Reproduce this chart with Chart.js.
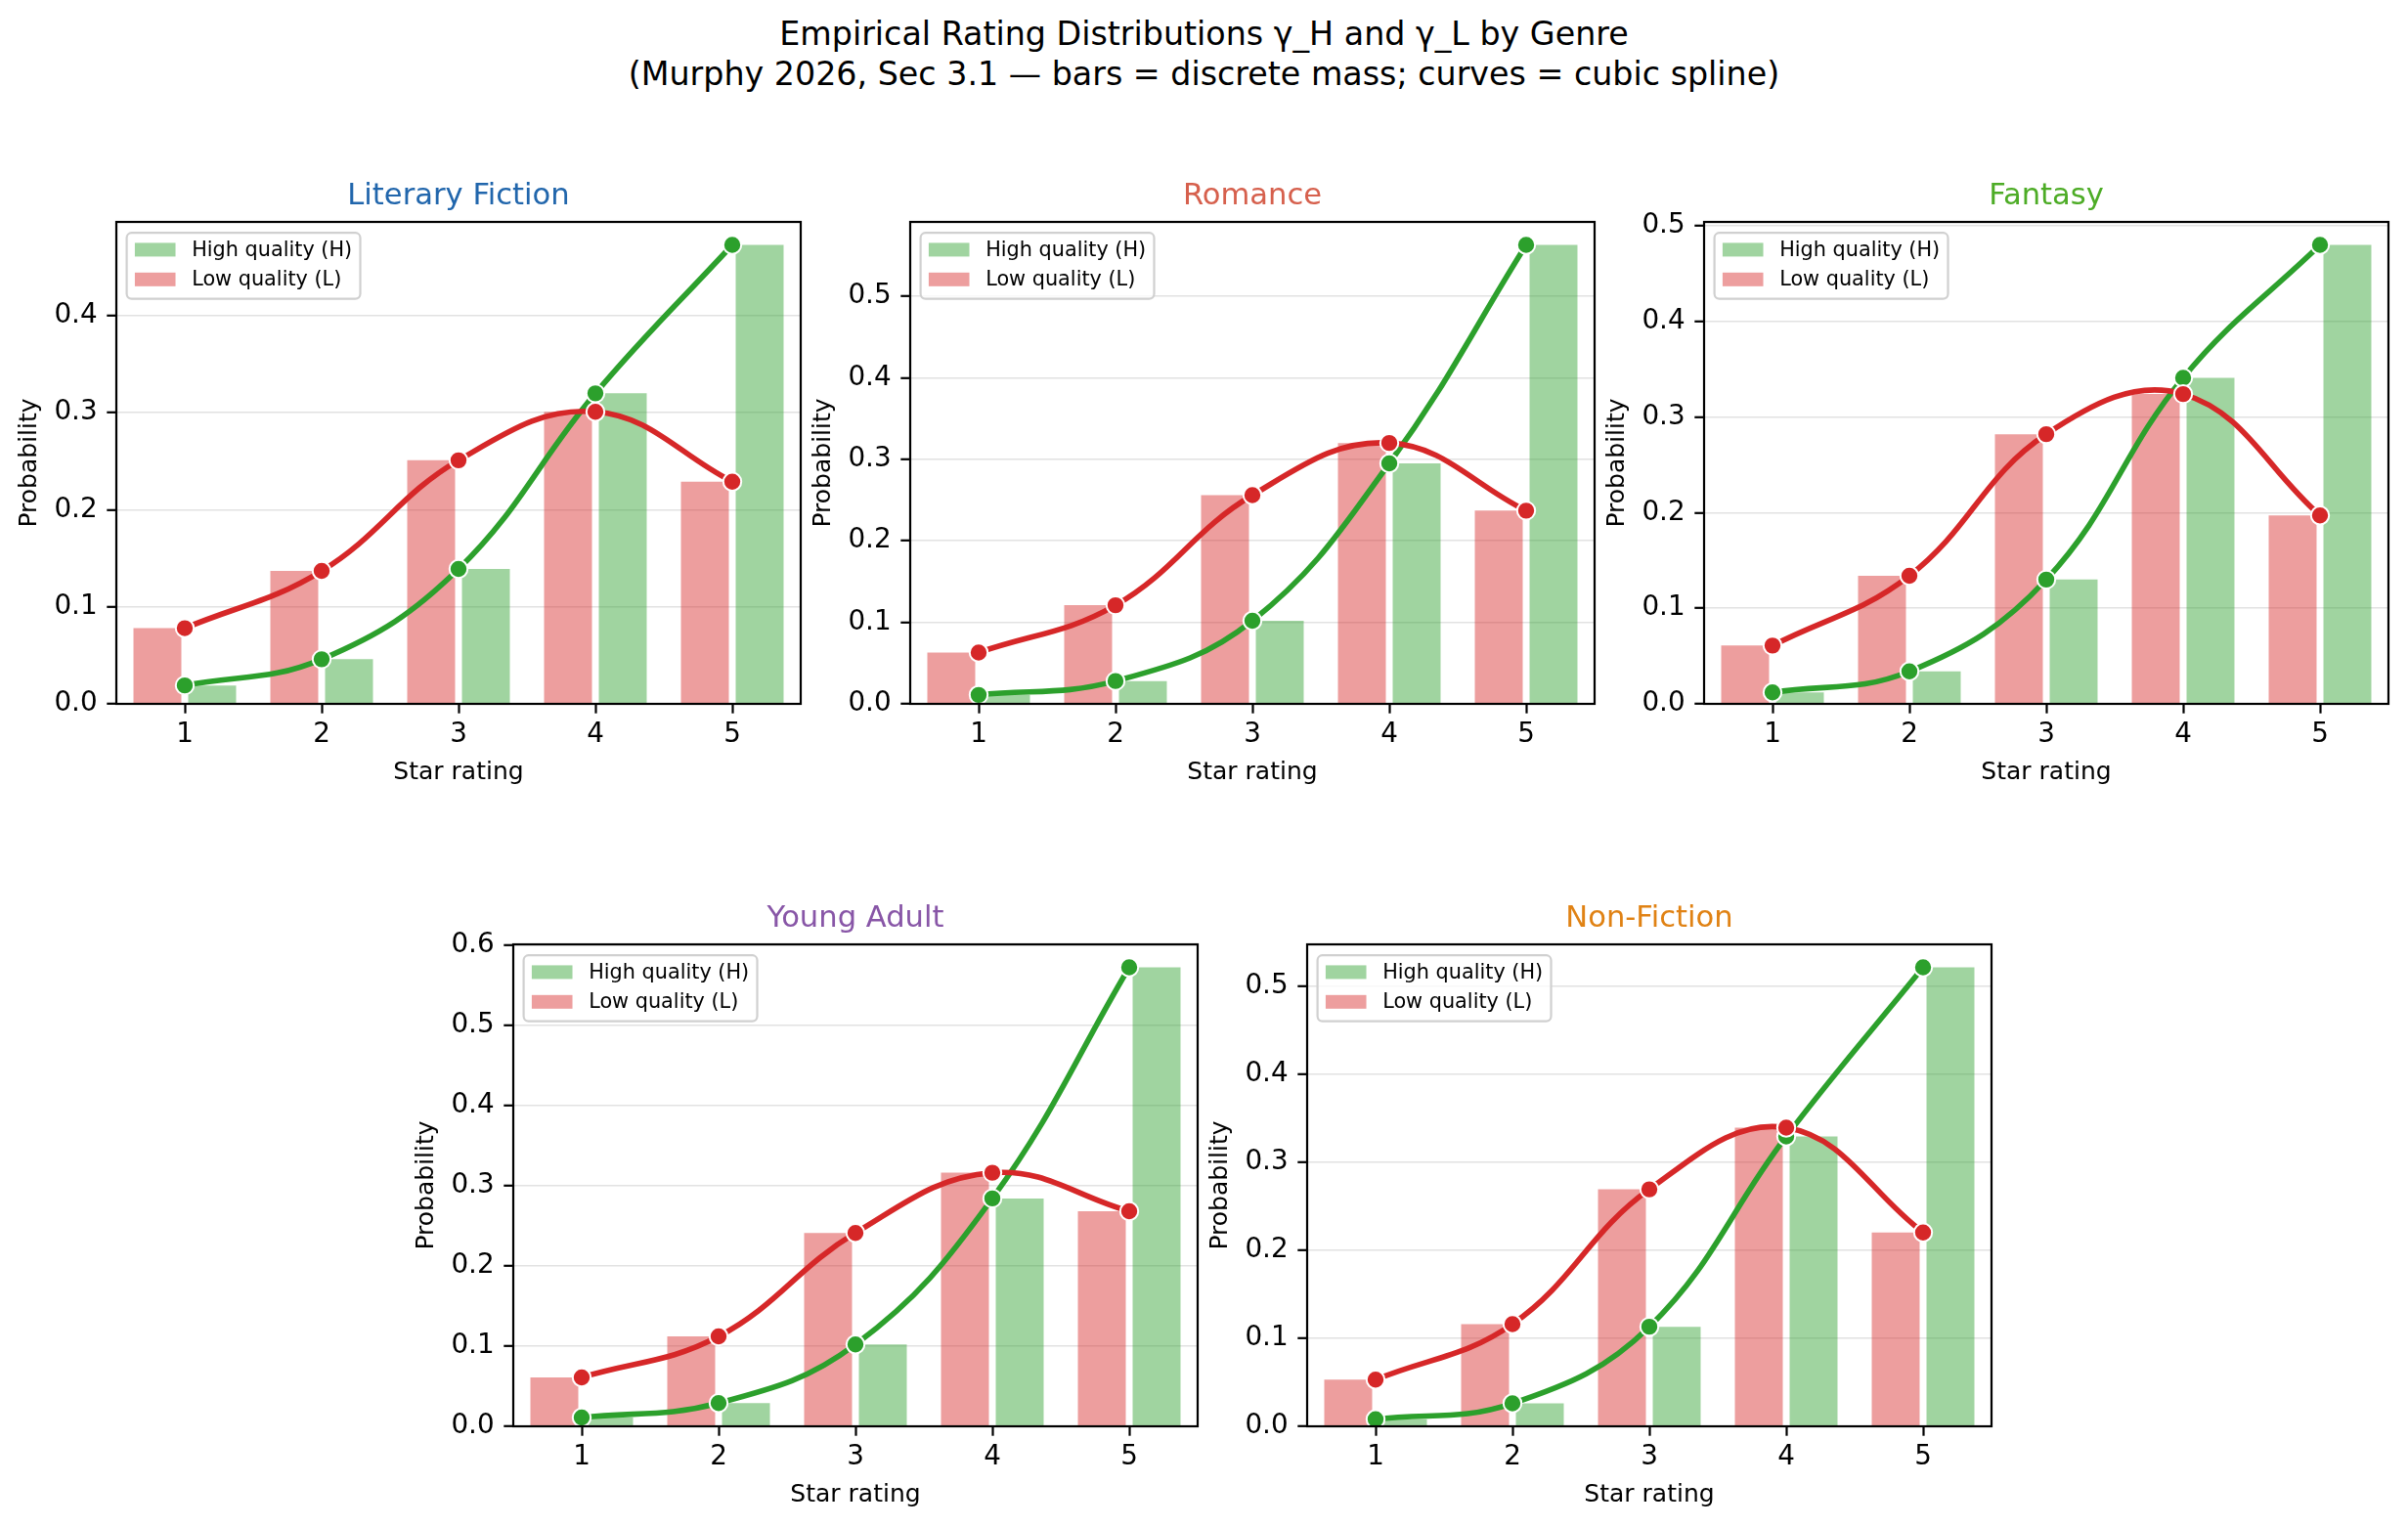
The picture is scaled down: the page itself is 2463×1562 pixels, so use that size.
<!DOCTYPE html>
<html>
<head>
<meta charset="utf-8">
<script src="https://cdn.jsdelivr.net/npm/chart.js@4.4.1/dist/chart.umd.min.js"></script>
<style>
  html, body { margin: 0; padding: 0; background: #ffffff; }
  body { width: 2463px; height: 1562px; position: relative; overflow: hidden; font-family: "DejaVu Sans", sans-serif; }
  .sup { position: absolute; left: 0; width: 2463px; text-align: center; font-size: 33.3px; line-height: 40.5px; color: #000; white-space: nowrap; }
  canvas { position: absolute; }
</style>
</head>
<body>
<div class="sup" style="top:15px">Empirical Rating Distributions γ_H and γ_L by Genre<br>(Murphy 2026, Sec 3.1 — bars = discrete mass; curves = cubic spline)</div>
<canvas id="c0" width="839" height="637" style="left:0px;top:173px"></canvas>
<canvas id="c1" width="839" height="637" style="left:812px;top:173px"></canvas>
<canvas id="c2" width="839" height="637" style="left:1624px;top:173px"></canvas>
<canvas id="c3" width="839" height="637" style="left:406px;top:912px"></canvas>
<canvas id="c4" width="839" height="637" style="left:1218px;top:912px"></canvas>
<script>
// ---------------- data ----------------
const STARS = [1, 2, 3, 4, 5];
const GENRES = ['Literary Fiction', 'Romance', 'Fantasy', 'Young Adult', 'Non-Fiction'];
const SERIES_LABELS = ['High quality (H)', 'Low quality (L)'];

const H_LITERARY = [0.019, 0.046, 0.139, 0.320, 0.473];
const L_LITERARY = [0.078, 0.137, 0.251, 0.301, 0.229];

const H_ROMANCE = [0.011, 0.028, 0.102, 0.295, 0.563];
const L_ROMANCE = [0.063, 0.121, 0.256, 0.320, 0.237];

const H_FANTASY = [0.012, 0.034, 0.130, 0.341, 0.480];
const L_FANTASY = [0.061, 0.134, 0.282, 0.324, 0.197];

const H_YOUNG_ADULT = [0.011, 0.029, 0.102, 0.284, 0.572];
const L_YOUNG_ADULT = [0.061, 0.112, 0.241, 0.316, 0.268];

const H_NONFICTION = [0.008, 0.026, 0.113, 0.329, 0.521];
const L_NONFICTION = [0.053, 0.116, 0.269, 0.339, 0.220];

const H_BY_GENRE = [H_LITERARY, H_ROMANCE, H_FANTASY, H_YOUNG_ADULT, H_NONFICTION];
const L_BY_GENRE = [L_LITERARY, L_ROMANCE, L_FANTASY, L_YOUNG_ADULT, L_NONFICTION];

// ---------------- style ----------------
const FONT = 'DejaVu Sans';
const TITLE_COLORS = ['#2166ac', '#d6604d', '#4dac26', '#8856a7', '#e08214'];
const GREEN = '#2ca02c', RED = '#d62728';
const GREEN_FILL = 'rgba(44,160,44,0.45)', RED_FILL = 'rgba(214,39,40,0.45)';
const YW = 119, XH = 90, RP = 20;
const TICK_FS = 27.8, LABEL_FS = 25, TITLE_FS = 30.6, LEG_FS = 20.8;

Chart.defaults.font.family = FONT;
Chart.defaults.color = '#000';

const mplFrameLegend = {
  id: 'mplFrameLegend',
  afterDatasetsDraw(chart) {
    const ctx = chart.ctx, ca = chart.chartArea;
    ctx.save();
    ctx.strokeStyle = '#000';
    ctx.lineWidth = 2.2;
    ctx.strokeRect(ca.left, ca.top, ca.right - ca.left, ca.bottom - ca.top);

    const items = [chart.data.datasets[1], chart.data.datasets[0]];
    ctx.font = LEG_FS + 'px "' + FONT + '"';
    const tw = Math.max(...items.map(d => ctx.measureText(d.label).width));
    const pad = 0.4 * LEG_FS, hl = 2.0 * LEG_FS, htp = 0.8 * LEG_FS;
    const bx = ca.left + 10.6, by = ca.top + 11.2;
    const bw = pad + hl + htp + tw + pad, bh = 67.4;
    ctx.beginPath();
    ctx.roundRect(bx, by, bw, bh, 5);
    ctx.fillStyle = 'rgba(255,255,255,0.8)';
    ctx.fill();
    ctx.strokeStyle = '#d0d0d0';
    ctx.lineWidth = 2.2;
    ctx.stroke();
    const rows = [by + 17.2, by + 47.6];
    items.forEach((d, i) => {
      ctx.fillStyle = d.backgroundColor;
      ctx.fillRect(bx + pad, rows[i] - 7, hl, 14);
      ctx.fillStyle = '#000';
      ctx.textBaseline = 'middle';
      ctx.textAlign = 'left';
      ctx.fillText(d.label, bx + pad + hl + htp, rows[i] + 1);
    });
    ctx.restore();
  }
};

function pts(vals) { return STARS.map((s, i) => ({ x: s, y: vals[i] })); }

function makeChart(id, gi) {
  const hv = H_BY_GENRE[gi], lv = L_BY_GENRE[gi];
  const yMax = 1.05 * Math.max(...hv, ...lv);
  return new Chart(document.getElementById(id), {
    type: 'bar',
    data: {
      datasets: [
        { type: 'bar', label: SERIES_LABELS[1], data: pts(lv), backgroundColor: RED_FILL, borderWidth: 0,
          categoryPercentage: 0.8, barPercentage: 0.875, order: 2 },
        { type: 'bar', label: SERIES_LABELS[0], data: pts(hv), backgroundColor: GREEN_FILL, borderWidth: 0,
          categoryPercentage: 0.8, barPercentage: 0.875, order: 2 },
        { type: 'line', label: 'H spline', data: pts(hv), borderColor: GREEN, backgroundColor: GREEN,
          borderWidth: 5.6, tension: 0.4, fill: false, pointRadius: 9.2, pointBorderColor: '#fff',
          pointBorderWidth: 2, pointBackgroundColor: GREEN, order: 1 },
        { type: 'line', label: 'L spline', data: pts(lv), borderColor: RED, backgroundColor: RED,
          borderWidth: 5.6, tension: 0.4, fill: false, pointRadius: 9.2, pointBorderColor: '#fff',
          pointBorderWidth: 2, pointBackgroundColor: RED, order: 0 }
      ]
    },
    options: {
      responsive: false,
      animation: false,
      events: [],
      devicePixelRatio: 1,
      layout: { padding: { left: 0, right: RP, top: 0, bottom: 0 } },
      plugins: {
        legend: { display: false },
        tooltip: { enabled: false },
        title: {
          display: true, text: GENRES[gi], color: TITLE_COLORS[gi], fullSize: false,
          font: { family: FONT, size: TITLE_FS, weight: 'normal', lineHeight: 1.2 },
          padding: { top: 10, bottom: 7.3 }
        }
      },
      scales: {
        x: {
          type: 'linear', min: 0.5, max: 5.5, offset: false,
          afterBuildTicks: s => { s.ticks = STARS.map(v => ({ value: v })); },
          afterFit: s => { s.height = XH; },
          ticks: { font: { size: TICK_FS }, color: '#000', padding: 5.7, autoSkip: false, maxRotation: 0 },
          grid: { display: true, drawOnChartArea: false, drawTicks: true, tickLength: 9.7,
                  tickColor: '#000', tickWidth: 2.2, offset: false },
          border: { display: false },
          title: { display: true, text: 'Star rating', color: '#000', font: { size: LABEL_FS },
                   padding: { top: 0, bottom: 5 } }
        },
        y: {
          type: 'linear', min: 0, max: yMax,
          afterFit: s => { s.width = YW; },
          ticks: { stepSize: 0.1, includeBounds: false, callback: v => v.toFixed(1),
                   font: { size: TICK_FS }, color: '#000', padding: 9.7 },
          grid: { color: '#e2e2e2', lineWidth: 1.6, drawTicks: true, tickLength: 9.7,
                  tickColor: '#000', tickWidth: 2.2 },
          border: { display: false },
          title: { display: true, text: 'Probability', color: '#000', font: { size: LABEL_FS },
                   padding: { top: 15, bottom: 0 } }
        }
      }
    },
    plugins: [mplFrameLegend]
  });
}

['c0', 'c1', 'c2', 'c3', 'c4'].forEach((id, gi) => makeChart(id, gi));
</script>
</body>
</html>
